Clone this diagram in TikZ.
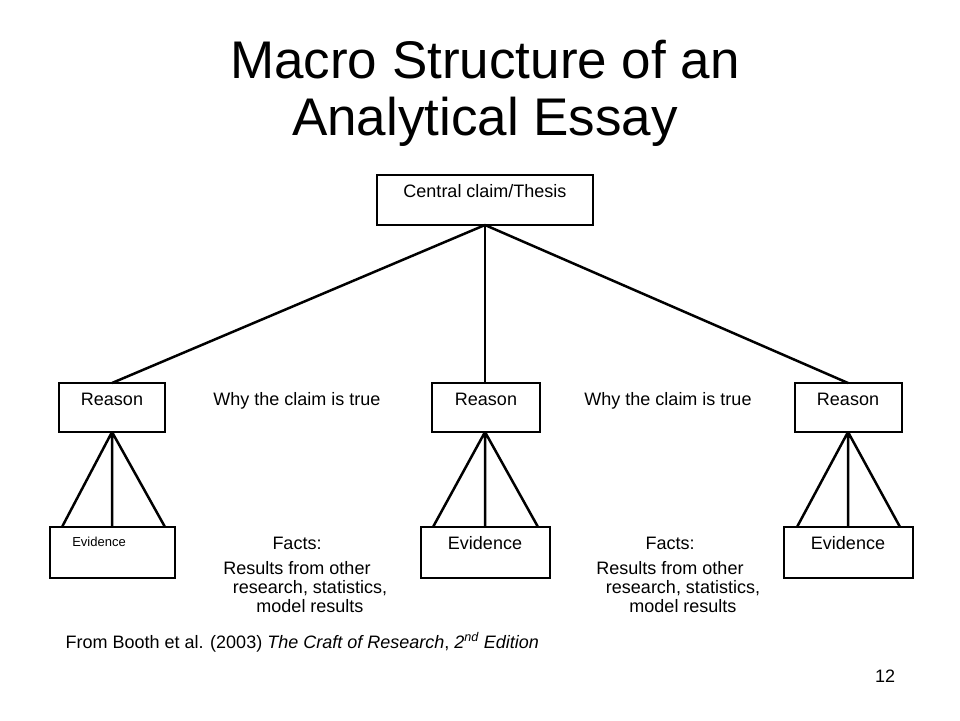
\documentclass[tikz,border=0pt]{standalone}
\usepackage{fontspec}
\setmainfont{Liberation Sans}
\begin{document}
\begin{tikzpicture}[x=1pt,y=-1pt,
  bx/.style={draw,line width=2pt},
  ln/.style={line width=2.5pt},
  lbl/.style={font=\fontsize{18}{20}\selectfont,anchor=base},
]
\useasboundingbox (0,0) rectangle (960,720);
\node[font=\fontsize{53}{57}\selectfont,align=center] (title) at (485,93) {Macro Structure of an\\Analytical Essay};
\draw[bx] (377,175) rectangle (593,225);
\node[lbl] (ct) at (485,197) {Central claim/Thesis};
\coordinate (c) at (485,225);
% reasons
\foreach \n/\a/\b in {l/59/165,m/432/540,r/795/902}{
  \draw[bx] (\a,383) rectangle (\b,432);
}
\node[lbl] at (112,405) {Reason};
\node[lbl] at (486,405) {Reason};
\node[lbl] at (848,405) {Reason};
\coordinate (rl) at (112,383); \coordinate (rm) at (485,383); \coordinate (rr) at (848,383);
\draw[ln] (c) -- (rl); \draw[ln] (c) -- (rm); \draw[ln] (c) -- (rr);
% evidence
\draw[bx] (50,527) rectangle (175,578);
\draw[bx] (421,527) rectangle (550,578);
\draw[bx] (784,527) rectangle (913,578);
\node[font=\fontsize{13}{15}\selectfont,anchor=base] at (99,546) {Evidence};
\node[lbl] at (485,549) {Evidence};
\node[lbl] at (848,549) {Evidence};
\coordinate (bl) at (112,432); \coordinate (bm) at (485,432); \coordinate (br) at (848,432);
\draw[ln] (bl) -- (62,527) (bl) -- (112,527) (bl) -- (165,527);
\draw[ln] (bm) -- (433,527) (bm) -- (485,527) (bm) -- (538,527);
\draw[ln] (br) -- (797,527) (br) -- (848,527) (br) -- (900,527);
% labels
\node[lbl] at (297,405) {Why the claim is true};
\node[lbl] at (668,405) {Why the claim is true};
\foreach \x in {297,670}{
  \node[lbl] at (\x,549) {Facts:};
  \node[lbl] at (\x,574) {Results from other};
  \node[lbl] at (\x+13,593) {research, statistics,};
  \node[lbl] at (\x+13,612) {model results};
}
\node[lbl,anchor=base west] at (62,648) {From Booth et al. (2003) \textit{The Craft of Research}, \textit{2\textsuperscript{nd} Edition}};
\node[lbl] at (885,682) {12};
\end{tikzpicture}
\end{document}
